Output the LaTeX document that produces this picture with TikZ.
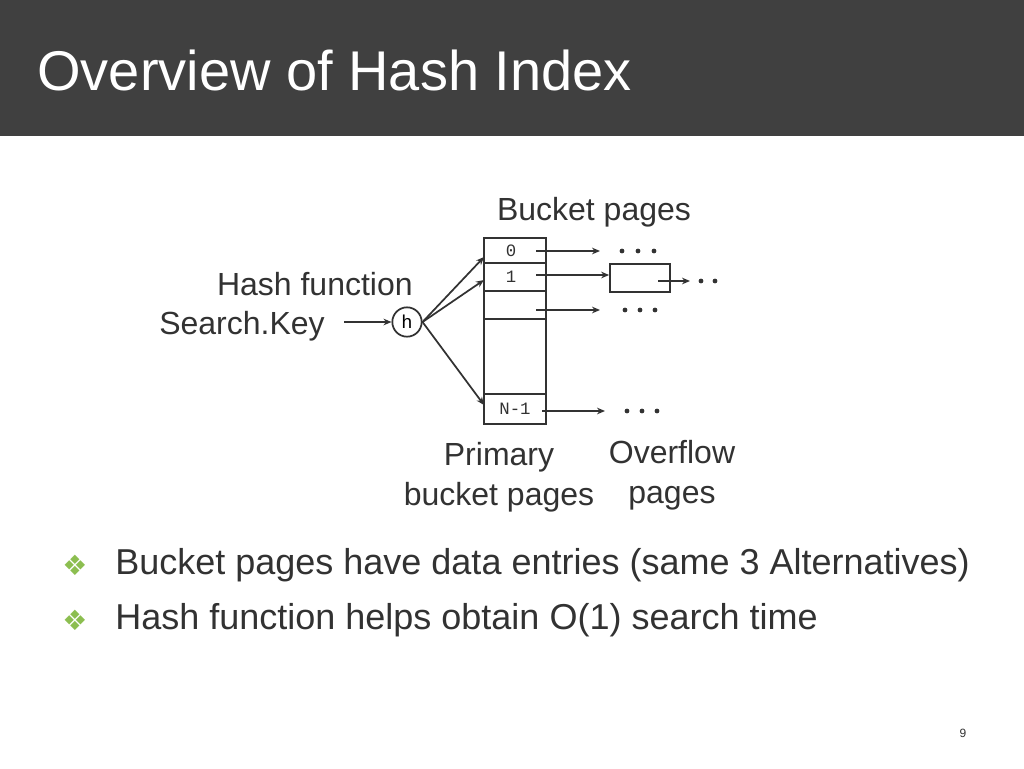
\documentclass[tikz,border=0pt]{standalone}
\usepackage{fontspec}
\setmainfont{Liberation Sans}
\setmonofont{Liberation Mono}
\newfontfamily\symfont{DejaVu Sans}
\usetikzlibrary{arrows.meta}
\definecolor{bandgray}{RGB}{64,64,64}
\definecolor{inkgray}{RGB}{50,50,50}
\definecolor{bulletgreen}{RGB}{140,190,80}
\begin{document}
\begin{tikzpicture}[x=0.75pt,y=-0.75pt,line width=1.3pt,
  ptr/.style={draw=inkgray,-{Stealth[length=6pt,width=5pt]}},
  label text/.style={font=\fontsize{24}{28}\selectfont,text=inkgray},
  slot text/.style={font=\ttfamily\fontsize{13}{14}\selectfont,text=inkgray},
  bullet line/.style={font=\fontsize{27}{30}\selectfont,text=inkgray,anchor=west}]
\useasboundingbox (0,0) rectangle (1024,768);
\fill[bandgray] (0,0) rectangle (1024,136);
\node[anchor=west,text=white,font=\fontsize{42}{48}\selectfont] (title) at (32,70) {Overview of Hash Index};

% primary bucket column
\draw[inkgray] (484,238) rectangle (546,424);
\foreach \y in {263,291,319,394} \draw[inkgray] (484,\y) -- (546,\y);
\node[slot text] (s0) at (511,251) {0};
\node[slot text] (s1) at (511,277) {1};
\node[slot text] (sn) at (515,409) {N-1};
\coordinate (in0) at (484,257);
\coordinate (in1) at (484,280);
\coordinate (inn) at (484,405);

% hash function
\node[circle,draw=inkgray,minimum size=22pt,inner sep=0pt,font=\ttfamily\fontsize{14}{14}\selectfont] (h) at (407,322) {h};
\node[label text,anchor=east] (key) at (330,326) {Search.Key};
\node[label text,anchor=east] (hf) at (418,284) {Hash function};
\coordinate (keyend) at (344,322);
\draw[ptr] (keyend) -- (h);
\draw[ptr] (h.east) -- (in0);
\draw[ptr] (h.east) -- (in1);
\draw[ptr] (h.east) -- (inn);

% pointers to overflow pages
\coordinate (p0) at (536,251);
\coordinate (p1) at (536,275);
\coordinate (p2) at (536,310);
\coordinate (pn) at (542,411);
\node[draw=inkgray,minimum width=45pt,minimum height=21pt,inner sep=0pt] (ov) at (640,278) {};
\draw[ptr] (p0) -- (600,251);
\draw[ptr] (p1) -- (ov.west |- p1);
\draw[ptr] (p2) -- (600,310);
\draw[ptr] (pn) -- (605,411);
\draw[ptr] (658,281) -- (690,281);
\foreach \x/\y in {622/251,638/251,654/251,625/310,640/310,655/310,627/411,642/411,657/411,701/281,715/281}
  \fill[inkgray] (\x,\y) circle (1.8pt);

\node[label text] (bp) at (594,212) {Bucket pages};
\node[label text,align=center] (prim) at (499,477) {Primary\\[2pt]bucket pages};
\node[label text,align=center] (over) at (672,475) {Overflow\\[2pt]pages};

% bullets
\node[text=bulletgreen,font=\symfont\fontsize{21}{21}\selectfont] (b1) at (75,565) {❖};
\node[bullet line] (t1) at (110,565) {Bucket pages have data entries (same 3 Alternatives)};
\node[text=bulletgreen,font=\symfont\fontsize{21}{21}\selectfont] (b2) at (75,620) {❖};
\node[bullet line] (t2) at (110,620) {Hash function helps obtain O(1) search time};

\node[font=\fontsize{9}{10}\selectfont,text=inkgray] (page) at (963,733) {9};
\end{tikzpicture}
\end{document}
